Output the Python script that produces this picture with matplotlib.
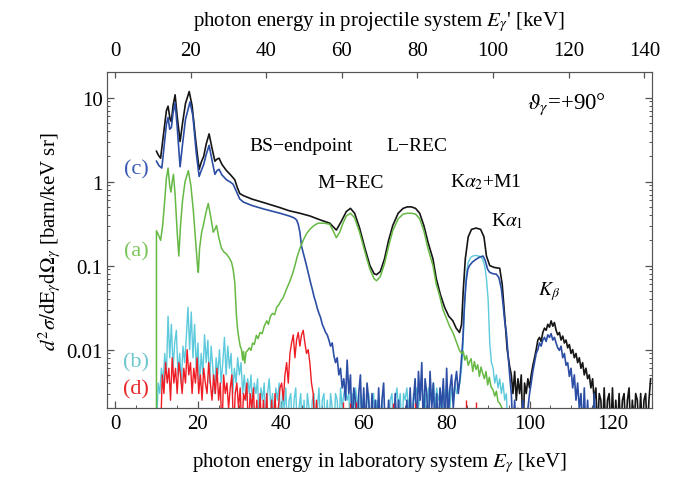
import numpy as np
import matplotlib.pyplot as plt
from matplotlib.ticker import MultipleLocator, LogLocator, NullFormatter

plt.rcParams['font.family'] = 'Liberation Serif'
plt.rcParams['mathtext.fontset'] = 'stix'

BIN = 0.4          # keV, width of the noisy histogram parts
MILLI = 1e-3       # noisy parts are typed in units of 1e-3 barn/keV sr
K_DOPPLER = 1.0965 # E' = K * E  (top axis)

# ---- black: full spectrum ----
blk_e = [10.0, 10.5, 11.0, 11.8, 12.4, 12.8, 13.3, 13.6, 14.0, 14.5,
         15.0, 15.7, 16.3, 17.0, 17.9, 18.6, 19.5, 20.3, 20.8, 21.4,
         22.0, 22.7, 23.4, 24.1, 24.6, 25.1, 25.8, 26.9, 27.9, 28.9,
         29.5, 30.1, 31.0, 33.0, 36.0, 39.8, 42.0, 44.6, 47.0, 49.5,
         51.8, 53.4, 54.5, 55.8, 56.8, 57.8, 59.0, 60.3, 61.5, 62.5,
         63.1, 64.0, 65.0, 66.0, 67.0, 68.3, 69.5, 70.5, 71.5, 72.5,
         73.5, 74.5, 75.5, 76.7, 77.5, 78.5, 79.5, 80.5, 81.5, 82.3,
         83.1, 83.6, 84.0, 84.5, 85.2, 86.0, 87.1, 88.2, 89.0, 89.6,
         90.4, 91.5, 92.8, 93.4, 94.0, 94.6, 95.2]
blk_v = [2.3, 2.05, 1.9, 4.0, 7.0, 7.9, 5.5, 5.2, 8.0, 10.8,
         6.0, 3.0, 5.0, 8.5, 11.8, 8.0, 3.0, 1.4, 1.7, 2.0,
         2.8, 3.7, 2.5, 1.75, 1.85, 1.9, 1.6, 1.35, 1.2, 1.05,
         0.85, 0.72, 0.68, 0.62, 0.56, 0.49, 0.45, 0.42, 0.39, 0.35,
         0.32, 0.265, 0.33, 0.44, 0.48, 0.42, 0.28, 0.16, 0.10, 0.08,
         0.078, 0.085, 0.12, 0.2, 0.3, 0.42, 0.48, 0.5, 0.5, 0.48,
         0.42, 0.3, 0.19, 0.12, 0.07, 0.045, 0.032, 0.025, 0.022, 0.018,
         0.016, 0.02, 0.05, 0.12, 0.22, 0.27, 0.28, 0.27, 0.22, 0.13,
         0.10, 0.095, 0.093, 0.06, 0.025, 0.010, 0.0063]
blk_tail_e0 = 95.6
blk_tail = [5, 3, 5.5, 2.5, 4.5, 3, 5, 1, 4, 3, 4.5, 3.5, 5, 6.5, 8, 10, 13, 14,
            12.5, 16, 18, 17, 20, 18.5, 22, 19, 21, 17, 15, 16, 13, 14.5, 12, 13,
            10.5, 11.5, 9, 10, 8, 9, 7, 8, 6, 7, 5, 6, 4.5, 5, 3.5, 4.5, 2.5, 3.5,
            1, 3, 2.5, 1, 3.5, 1, 2.5, 3, 1, 3.5, 1, 2.5, 1, 3, 1, 2.5, 3, 1, 2.5,
            3.5, 1, 2.5, 1, 3, 2.5, 1, 3, 1, 2.5, 3, 1, 2.5, 4.5]

# ---- blue (c) ----
blu_e = [10.0, 10.6, 11.3, 11.8, 12.4, 12.8, 13.2, 13.6, 14.0, 14.5,
         15.0, 15.7, 16.3, 17.0, 18.1, 18.8, 19.6, 20.3, 20.8, 21.4,
         22.0, 22.7, 23.4, 24.1, 24.6, 25.1, 25.8, 26.9, 27.9, 28.5,
         29.5, 30.1, 31.0, 33.0, 36.0, 39.8, 42.0, 43.2, 43.8, 44.2,
         44.6, 45.0, 45.6, 46.2, 46.8]
blu_v = [1.75, 1.55, 1.45, 2.5, 4.8, 5.8, 4.2, 4.4, 6.5, 8.7,
         4.5, 1.5, 2.8, 5.5, 8.9, 6.0, 2.2, 1.15, 1.35, 1.6,
         2.1, 2.7, 1.8, 1.22, 1.35, 1.4, 1.2, 1.05, 0.98, 0.93,
         0.72, 0.62, 0.57, 0.52, 0.47, 0.42, 0.39, 0.37, 0.35, 0.31,
         0.25, 0.17, 0.13, 0.1, 0.075]
blu_mid_e0 = 47.2
blu_mid = [62, 52, 43, 37, 31, 27, 24, 20, 18, 16, 15, 13, 11, 12, 8.5, 7, 8, 5, 6,
           3.5, 4.5, 2.5, 7.5, 3, 5,
           1, 3.5, 2.5, 1, 3, 5, 1, 3.5, 1, 4, 2.5, 1, 3, 1, 2.5, 1, 3.5, 1, 2.5, 4,
           1, 1, 2.5, 1, 2,
           1, 3, 1, 2.5, 1, 1, 2, 1, 2.5, 1, 3.5, 1, 2.5, 4.5, 1, 5.5, 2.5, 7, 1, 4.5,
           3, 1, 5.5, 2, 4,
           1, 3, 1, 3.5, 2, 4.5, 1, 6, 1.5, 3.5, 5, 2, 4, 5.5, 3, 4.5, 8]
blu_ka_e = [83.9, 84.3, 84.7, 85.1, 85.5, 86.2, 87.0, 87.8, 88.4, 88.8,
            89.3, 89.9, 90.4, 91.2, 92.0, 92.6, 93.2, 93.6, 94.0, 94.4]
blu_ka = [13, 35, 65, 90, 100, 110, 118, 125, 128, 130,
          115, 90, 83, 80, 79, 72, 53, 35, 22, 16]
blu_tail_e0 = 94.8
blu_tail = [9, 5, 3, 1, 2.5, 1, 2, 1, 1, 2.5, 1, 1, 2, 3, 4, 5.5, 7, 9, 10, 12, 11,
            13, 14, 12.5, 15, 14, 15.5, 13, 14, 12, 10.5, 9.8, 11, 8, 9, 6.5, 7,
            4.8, 6, 3.5, 5, 2.5, 4, 2, 3, 1, 3.5, 1, 2.5, 1, 2, 1, 3, 1, 2, 1]

# ---- green (a) ----
grn_e = [10.0, 10.0, 10.5, 11.0, 11.5, 12.0, 12.4, 12.8, 13.2, 13.5,
         13.8, 14.1, 14.5, 15.0, 15.4, 15.8, 16.3, 16.9, 17.7, 18.3,
         18.9, 19.5, 19.9, 20.1, 20.4, 20.9, 21.3, 21.9, 22.5, 23.1,
         23.7, 24.1, 24.5, 25.0, 25.7, 26.3, 26.9, 27.5, 28.1, 28.5,
         28.9, 29.3, 29.6, 29.9, 30.2, 30.5, 30.8, 31.0, 31.3, 31.6,
         32.0, 32.4, 32.8, 33.2, 33.6, 34.1, 34.5, 35.0, 35.5, 36.0,
         36.6, 37.0, 37.5, 38.0, 38.5, 39.0, 39.5, 40.0, 40.5, 41.0,
         41.4, 42.0, 42.5, 43.0, 43.4, 43.9, 44.6, 45.4, 46.2, 47.0,
         48.0, 49.0, 50.5, 51.8, 52.6, 53.4, 54.2, 55.0, 55.8, 56.8,
         57.8, 59.0, 60.3, 61.5, 62.5, 63.1, 64.0, 65.0, 66.0, 67.0,
         68.3, 69.5, 70.5, 71.5, 72.5, 73.5, 74.5, 75.5, 76.7, 77.5,
         78.3, 79.1, 79.9, 80.7, 81.5, 82.3, 83.1, 83.6, 84.0, 84.4,
         84.8, 85.2, 85.5, 85.9, 86.3, 86.7, 87.1, 87.5, 87.9, 88.3,
         88.7, 89.1, 89.5, 89.9, 90.3, 90.7, 91.2, 91.6, 92.0, 92.4,
         92.8, 93.2, 93.6]
grn_v = [0.001, 0.26, 0.23, 0.2, 0.3, 0.6, 1.1, 1.45, 0.9, 0.75,
         1.0, 1.22, 0.7, 0.25, 0.13, 0.3, 0.6, 1.0, 1.35, 0.9,
         0.45, 0.18, 0.1, 0.083, 0.16, 0.25, 0.3, 0.42, 0.55, 0.38,
         0.25, 0.27, 0.30, 0.22, 0.16, 0.145, 0.137, 0.125, 0.11, 0.09,
         0.063, 0.025, 0.017, 0.0134, 0.011, 0.0101, 0.0075, 0.0095, 0.0069, 0.0093,
         0.0098, 0.0105, 0.0098, 0.012, 0.0115, 0.0148, 0.0135, 0.016, 0.0155, 0.019,
         0.022, 0.02, 0.025, 0.027, 0.026, 0.032, 0.034, 0.038, 0.041, 0.047,
         0.053, 0.062, 0.072, 0.085, 0.1, 0.125, 0.16, 0.2, 0.24, 0.27,
         0.3, 0.32, 0.32, 0.31, 0.26, 0.215, 0.25, 0.32, 0.39, 0.42,
         0.37, 0.25, 0.145, 0.09, 0.07, 0.066, 0.074, 0.105, 0.17, 0.26,
         0.36, 0.41, 0.42, 0.42, 0.41, 0.36, 0.26, 0.16, 0.1, 0.06,
         0.044, 0.03, 0.024, 0.019, 0.016, 0.0125, 0.0098, 0.009, 0.0095, 0.0075,
         0.0085, 0.0065, 0.0071, 0.0078, 0.0055, 0.0072, 0.0058, 0.0066, 0.0048, 0.0062,
         0.0052, 0.0045, 0.0055, 0.0038, 0.0047, 0.0036, 0.0033, 0.0028, 0.0032, 0.0024,
         0.0023, 0.0021, 0.0018]

# ---- cyan (b) ----
cyn_e0 = 10.0
cyn_noise = [1, 4, 3, 6, 4, 9, 5, 25, 8, 20, 6, 12, 17, 5, 9, 4, 11, 7, 14, 32, 10, 28,
             8, 20, 6, 12,
             4, 9, 5, 15, 7, 13, 4, 11, 6, 3, 8, 5, 10, 4, 7, 14, 5, 11, 6, 9, 3, 6,
             4, 8, 5,
             7, 3, 5, 2.5, 4.5, 3, 5, 2, 4, 3, 4.5, 1, 3.5, 2.5, 4, 1, 3, 4.5, 2, 3,
             1, 3.5, 2.5, 4, 1,
             3, 2, 3.5, 1, 2.5, 3, 1, 2.5, 3.5, 1, 2, 3, 1, 2.5, 1, 3, 2, 1, 2.5, 3,
             1, 2, 3.5, 1, 2.5,
             3, 1, 2.5, 1, 3, 2, 1, 3, 2.5, 1, 3.5, 2, 3, 3.5, 2.5, 3, 1, 3, 2, 3.5,
             2.5, 1, 3, 2, 3,
             1, 2.5, 3, 1, 2, 3, 1, 2.5, 1, 1, 2.5, 1, 1, 2, 1, 2.5, 3, 1, 2.5, 3.5,
             2, 3, 1, 3, 2.5,
             3.5, 2, 3, 1, 3, 2.5, 3.5, 2, 3, 4, 2.5, 3, 1, 3.5, 2.5, 3, 4, 2, 3.5,
             2.5, 3, 1, 3.5, 2.5, 4,
             3, 2, 3.5, 2.5, 4, 3, 3.5, 4, 6]
cyn_ka_e = [83.9, 84.3, 84.7, 85.2, 85.8, 86.3, 87.0, 87.7, 88.3, 88.8,
            89.2, 89.6, 90.0, 90.4, 90.8, 91.2]
cyn_ka = [10, 30, 75, 110, 125, 130, 132, 130, 128, 115,
          98, 70, 40, 12, 7, 6]
cyn_tail_e0 = 91.6
cyn_tail = [4, 5, 3.5, 4.5, 3, 4, 2.5, 3, 1, 2, 1]

# ---- red (d) ----
red_e0 = 11.0
red_noise = [1, 5, 3, 7, 4, 6, 2.5, 8, 4, 6, 3, 7, 5, 3, 6, 4, 10, 5, 7, 3, 6, 4, 8, 3, 5,
             2.5, 6, 4, 3, 7, 4, 2.5, 5, 3, 6, 2.5, 4, 1, 5, 3, 4, 2, 3.5, 5, 1, 3, 4,
             2, 3.5, 1,
             3, 2.5, 4, 1, 3, 2, 3.5, 1, 2.5, 1, 3, 1, 2.5, 1, 3, 1, 1, 2.5, 1, 3, 1,
             2, 3.5, 4, 2.5,
             5, 7, 4, 9, 12, 15, 8, 13, 16, 11, 15, 17, 12, 9, 10, 7, 4, 3, 1, 2.5, 1, 1]
red_spike_e = [55.0, 56.6, 58.2, 67.0, 72.3, 84.7, 87.1]
red_spike_v = [2.4, 2.3, 2.4, 2.3, 2.3, 2.5, 2.4]


def binned(e0, vals):
    return e0 + BIN * np.arange(len(vals)), np.array(vals) * MILLI


fig = plt.figure(figsize=(6.84, 4.81), dpi=100)
ax = fig.add_axes([0.156, 0.149, 0.797, 0.6986])
ax.set_yscale('log')

c_blk = '#151515'
c_blu = '#2d4ea5'
c_grn = '#66b944'
c_cyn = '#5ccadc'
c_red = '#ee1d25'

# black
tx, ty = binned(blk_tail_e0, blk_tail)
ax.plot(np.concatenate([blk_e, tx]), np.concatenate([blk_v, ty]),
        color=c_blk, lw=1.2, zorder=2)

# cyan
nx, ny = binned(cyn_e0, cyn_noise)
tx, ty = binned(cyn_tail_e0, cyn_tail)
ax.plot(np.concatenate([nx, cyn_ka_e, tx]),
        np.concatenate([ny, np.array(cyn_ka) * MILLI, ty]),
        color=c_cyn, lw=1.0, zorder=3)

# blue
mx, my = binned(blu_mid_e0, blu_mid)
tx, ty = binned(blu_tail_e0, blu_tail)
ax.plot(np.concatenate([blu_e, mx, blu_ka_e, tx]),
        np.concatenate([blu_v, my, np.array(blu_ka) * MILLI, ty]),
        color=c_blu, lw=1.2, zorder=4)

# green
ax.plot(grn_e, grn_v, color=c_grn, lw=1.1, zorder=5)

# red
rx, ry = binned(red_e0, red_noise)
ax.plot(rx, ry, color=c_red, lw=1.0, zorder=6)
ax.vlines(red_spike_e, 0.001, np.array(red_spike_v) * MILLI, color=c_red, lw=1.0, zorder=6)

ax.set_xlim(-2.0, 129.5)
ax.set_ylim(0.002, 20)

ax.xaxis.set_major_locator(MultipleLocator(20))
ax.xaxis.set_minor_locator(MultipleLocator(5))
ax.set_yticks([0.01, 0.1, 1, 10])
ax.set_yticklabels(['0.01', '0.1', '1', '10'])
ax.yaxis.set_minor_locator(LogLocator(base=10, subs=range(2, 10)))
ax.yaxis.set_minor_formatter(NullFormatter())
ax.tick_params(which='both', direction='in', top=False, right=True,
               labelsize=15, color='#555555')
ax.tick_params(which='major', length=5, width=0.9)
ax.tick_params(which='minor', length=2.5, width=0.7)
ax.tick_params(axis='x', pad=4)
ax.tick_params(axis='y', pad=3)
for s in ax.spines.values():
    s.set_color('#555555')

ax.set_xlabel(r'photon energy in laboratory system $E_\gamma$ [keV]', fontsize=15)
ax.xaxis.set_label_coords(0.5, -0.125)
ax.set_ylabel(r'$d^2\sigma/\mathrm{dE}_\gamma\mathrm{d}\Omega_\gamma$ [barn/keV sr]',
              fontsize=15)
ax.yaxis.set_label_coords(-0.078, 0.5)

# top axis: projectile frame
ax2 = ax.twiny()
ax2.set_xlim(ax.get_xlim()[0] * K_DOPPLER, ax.get_xlim()[1] * K_DOPPLER)
ax2.xaxis.set_major_locator(MultipleLocator(20))
ax2.tick_params(direction='in', labelsize=15, length=4, width=0.9,
                color='#555555', pad=9)
ax2.set_xlabel(r"photon energy in projectile system $E_\gamma$' [keV]", fontsize=15,
               labelpad=11)
for s in ax2.spines.values():
    s.set_color('#555555')

# annotations
fs = 14
ax.text(44.9, 2.4, 'BS\u2212endpoint', fontsize=fs, ha='center')
ax.text(72.8, 2.4, 'L\u2212REC', fontsize=fs, ha='center')
ax.text(56.9, 0.87, 'M\u2212REC', fontsize=fs, ha='center')
ax.text(89.5, 0.87, r'K$\alpha_2$+M1', fontsize=fs, ha='center')
ax.text(94.7, 0.30, r'K$\alpha_1$', fontsize=fs, ha='center')
ax.text(104.6, 0.045, r'$K_\beta$', fontsize=fs, ha='center')
ax.text(99.5, 7.6, r'$\vartheta_\gamma$=+90°', fontsize=16.5, ha='left')

ax.text(5.1, 1.40, '(c)', fontsize=16, color='#3a5bb5', ha='center', va='center')
ax.text(5.1, 0.148, '(a)', fontsize=16, color='#7cc45c', ha='center', va='center')
ax.text(5.1, 0.0072, '(b)', fontsize=16, color='#6cc8cc', ha='center', va='center')
ax.text(5.1, 0.0034, '(d)', fontsize=16, color='#e8262a', ha='center', va='center')

fig.savefig('out.png', dpi=100)
